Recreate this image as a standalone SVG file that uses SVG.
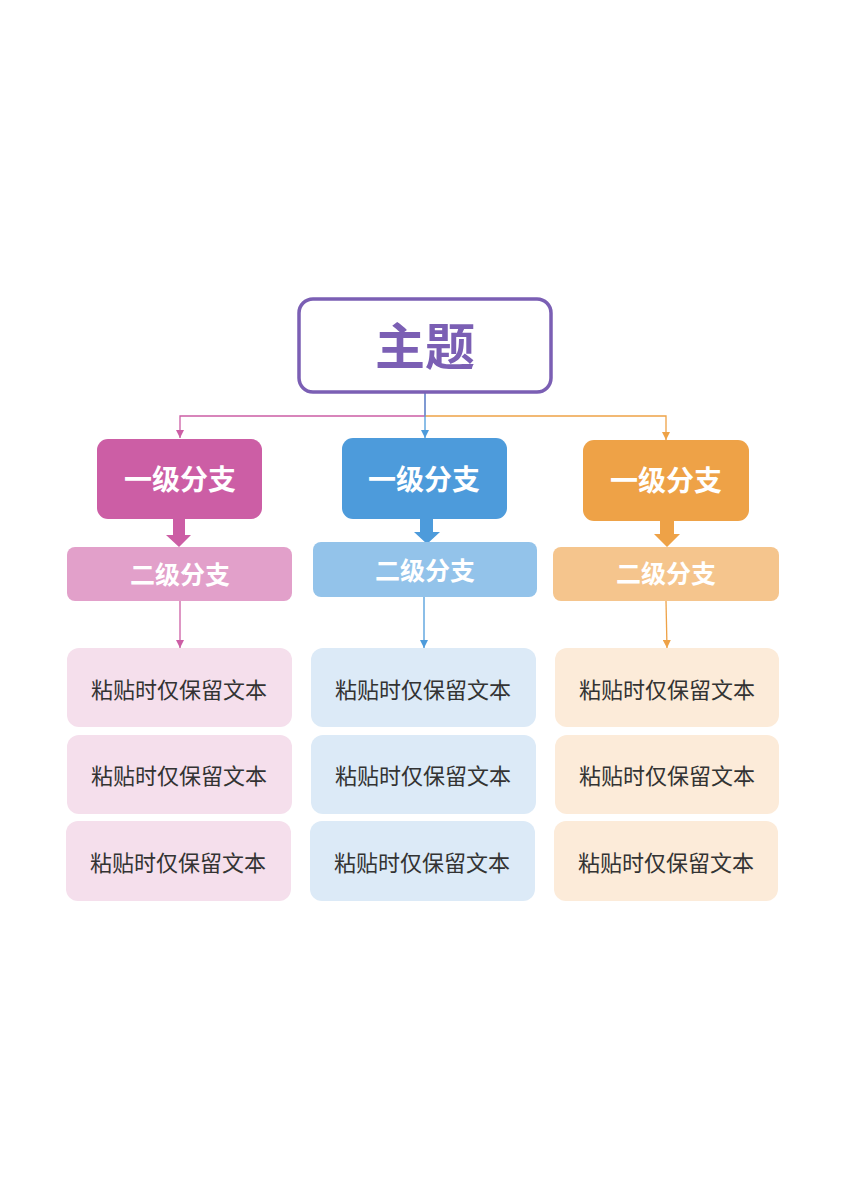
<svg xmlns="http://www.w3.org/2000/svg" width="848" height="1200" viewBox="0 0 848 1200">
<defs>
<style>
.t{font-family:"Noto Sans CJK SC","Noto Sans",sans-serif;text-anchor:middle}
.l1{font-size:28px;font-weight:bold;fill:#fff}
.l2{font-size:25px;font-weight:bold;fill:#fff}
.lf{font-size:22px;fill:#333}
</style>
<marker id="ap" viewBox="0 0 10 10" refX="10" refY="5" markerWidth="8" markerHeight="8" markerUnits="userSpaceOnUse" orient="auto"><path d="M0,0L10,5L0,10z" fill="#CC5EA5"/></marker>
<marker id="ab" viewBox="0 0 10 10" refX="10" refY="5" markerWidth="8" markerHeight="8" markerUnits="userSpaceOnUse" orient="auto"><path d="M0,0L10,5L0,10z" fill="#4D9BDB"/></marker>
<marker id="ao" viewBox="0 0 10 10" refX="10" refY="5" markerWidth="8" markerHeight="8" markerUnits="userSpaceOnUse" orient="auto"><path d="M0,0L10,5L0,10z" fill="#EEA247"/></marker>
</defs>
<rect width="848" height="1200" fill="#fff"/>
<g id="connectors" fill="none" stroke-width="1.3">
<path d="M425,392V416H180V438" stroke="#CC5EA5" marker-end="url(#ap)"/>
<path d="M425,416H666V440" stroke="#EEA247" marker-end="url(#ao)"/>
<path d="M425,392V438" stroke="#4D9BDB" marker-end="url(#ab)"/>
<path d="M180,601V648" stroke="#CC5EA5" marker-end="url(#ap)"/>
<path d="M424,597V648" stroke="#4D9BDB" marker-end="url(#ab)"/>
<path d="M666,601L667,648" stroke="#EEA247" marker-end="url(#ao)"/>
<path d="M173,518V535H166L179,547L191,535H185V518Z" fill="#CC5EA5" stroke="none"/>
<path d="M420,518V532H414L427,544L440,532H433V518Z" fill="#4D9BDB" stroke="none"/>
<path d="M660,520V534H654L667,547L680,534H674V520Z" fill="#EEA247" stroke="none"/>
</g>
<g id="main">
<rect x="299" y="299" width="252" height="93" rx="14" fill="#fff" stroke="#7B5FB4" stroke-width="3.5"/>
<text class="t" x="425" y="365" font-size="50" font-weight="bold" fill="#7B5FB4">主题</text>
</g>
<g id="l1-pink"><rect x="97" y="439" width="165" height="80" rx="11" fill="#CC5EA5"/><text class="t l1" x="180" y="490">一级分支</text></g>
<g id="l1-blue"><rect x="342" y="438" width="165" height="81" rx="11" fill="#4D9BDB"/><text class="t l1" x="424" y="490">一级分支</text></g>
<g id="l1-orange"><rect x="583" y="440" width="166" height="81" rx="11" fill="#EEA247"/><text class="t l1" x="666" y="491">一级分支</text></g>
<g id="l2-pink"><rect x="67" y="547" width="225" height="54" rx="8" fill="#E2A0CA"/><text class="t l2" x="180" y="584">二级分支</text></g>
<g id="l2-blue"><rect x="313" y="542" width="224" height="55" rx="8" fill="#93C3EA"/><text class="t l2" x="425" y="580">二级分支</text></g>
<g id="l2-orange"><rect x="553" y="547" width="226" height="54" rx="8" fill="#F5C58D"/><text class="t l2" x="666" y="583">二级分支</text></g>
<g id="leaf-p1"><rect x="67" y="648" width="225" height="79" rx="12" fill="#F5DFEC"/><text class="t lf" x="179" y="698">粘贴时仅保留文本</text></g>
<g id="leaf-p2"><rect x="67" y="735" width="225" height="79" rx="12" fill="#F5DFEC"/><text class="t lf" x="179" y="784">粘贴时仅保留文本</text></g>
<g id="leaf-p3"><rect x="66" y="821" width="225" height="80" rx="12" fill="#F5DFEC"/><text class="t lf" x="178" y="871">粘贴时仅保留文本</text></g>
<g id="leaf-b1"><rect x="311" y="648" width="225" height="79" rx="12" fill="#DCEAF7"/><text class="t lf" x="423" y="698">粘贴时仅保留文本</text></g>
<g id="leaf-b2"><rect x="311" y="735" width="225" height="79" rx="12" fill="#DCEAF7"/><text class="t lf" x="423" y="784">粘贴时仅保留文本</text></g>
<g id="leaf-b3"><rect x="310" y="821" width="225" height="80" rx="12" fill="#DCEAF7"/><text class="t lf" x="422" y="871">粘贴时仅保留文本</text></g>
<g id="leaf-o1"><rect x="555" y="648" width="224" height="79" rx="12" fill="#FCEBD9"/><text class="t lf" x="667" y="698">粘贴时仅保留文本</text></g>
<g id="leaf-o2"><rect x="555" y="735" width="224" height="79" rx="12" fill="#FCEBD9"/><text class="t lf" x="667" y="784">粘贴时仅保留文本</text></g>
<g id="leaf-o3"><rect x="554" y="821" width="224" height="80" rx="12" fill="#FCEBD9"/><text class="t lf" x="666" y="871">粘贴时仅保留文本</text></g>
</svg>
